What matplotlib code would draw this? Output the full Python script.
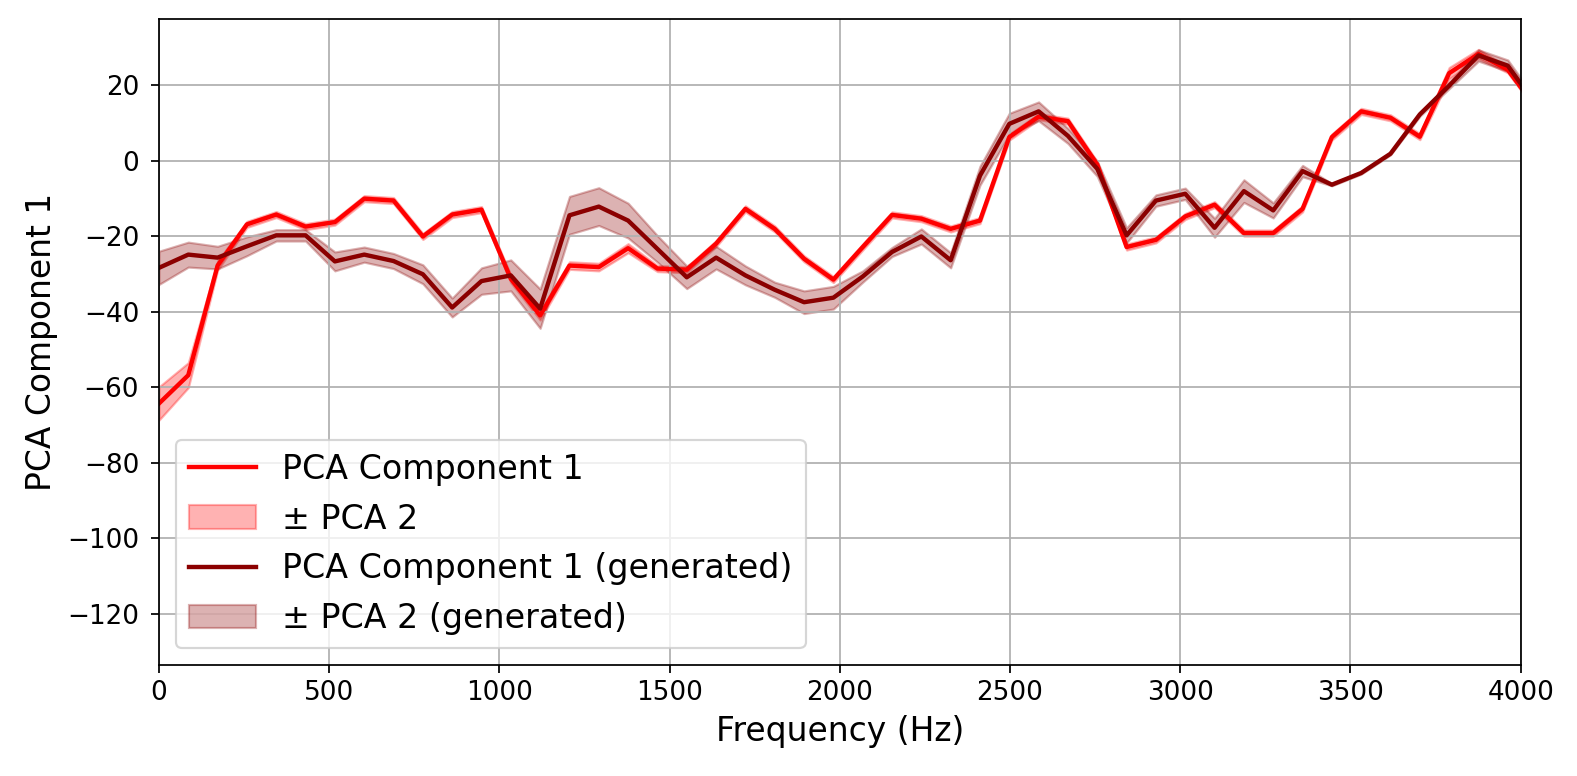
import matplotlib
matplotlib.use("Agg")
import matplotlib.pyplot as plt
import numpy as np

# {{{ data (48 FFT bins, spacing 22050/256 Hz)
bin_spacing = 22050 / 256
n_bins = 48

pc1 = [
    -64.3, -56.8, -27.8, -16.9, -14.3, -17.5, -16.3, -10.1, -10.6, -20.1,
    -14.3, -13.0, -31.3, -41.0, -27.8, -28.2, -23.2, -28.6, -28.9, -22.0,
    -12.8, -18.1, -26.0, -31.5, -22.9, -14.4, -15.4, -18.1, -15.9, 6.2,
    11.6, 10.4, -1.1, -22.9, -21.0, -14.8, -11.7, -19.2, -19.2, -12.8,
    6.2, 13.0, 11.3, 6.3, 23.1, 28.2, 24.0, 13.6,
]
pc2_spread = [
    4.4, 3.3, 1.2, 0.8, 0.8, 0.8, 0.8, 0.8, 0.8, 0.8,
    0.8, 0.8, 1.0, 1.2, 1.0, 1.0, 1.2, 0.8, 0.8, 0.8,
    0.8, 0.8, 0.8, 0.8, 0.8, 0.8, 0.8, 0.8, 0.8, 0.8,
    0.8, 0.8, 0.8, 0.8, 0.8, 0.8, 0.8, 0.8, 0.8, 0.8,
    0.8, 0.8, 0.8, 0.8, 1.5, 1.2, 0.8, 0.8,
]
pc1_gen = [
    -28.4, -24.9, -25.7, -22.7, -19.8, -19.8, -26.7, -24.9, -26.6, -30.1,
    -38.9, -31.9, -30.4, -39.2, -14.5, -12.2, -15.9, -23.4, -30.9, -25.7,
    -30.4, -34.2, -37.5, -36.3, -30.7, -24.2, -20.1, -26.4, -4.0, 9.7,
    13.0, 6.5, -2.2, -19.8, -10.6, -8.8, -17.8, -8.1, -13.2, -2.8,
    -6.4, -3.3, 1.8, 12.2, 19.8, 27.8, 25.1, 14.3,
]
pc2_spread_gen = [
    4.4, 3.3, 3.0, 2.5, 1.5, 1.5, 2.5, 2.0, 2.0, 2.5,
    2.5, 3.5, 4.1, 5.2, 5.0, 5.0, 4.6, 3.5, 3.0, 3.0,
    2.5, 2.0, 3.0, 3.0, 1.5, 1.2, 2.0, 2.0, 2.5, 2.8,
    2.5, 2.0, 2.0, 2.0, 1.5, 1.5, 2.5, 3.0, 2.0, 1.5,
    0.3, 0.3, 0.3, 0.5, 0.8, 1.5, 1.5, 1.5,
]
# }}}

freqs = np.arange(n_bins) * bin_spacing
pc1 = np.array(pc1)
pc1_gen = np.array(pc1_gen)
pc2_spread = np.array(pc2_spread)
pc2_spread_gen = np.array(pc2_spread_gen)

fig = plt.figure(figsize=(10, 776 / 157.7), dpi=157.7)
ax = fig.add_axes([0.1008, 0.1430, 0.8635, 0.8328])

ax.plot(freqs, pc1, color="red", lw=2, label="PCA Component 1")
ax.fill_between(
    freqs, pc1 - pc2_spread, pc1 + pc2_spread,
    color="red", alpha=0.3, label="± PCA 2",
)
ax.plot(freqs, pc1_gen, color="darkred", lw=2,
        label="PCA Component 1 (generated)")
ax.fill_between(
    freqs, pc1_gen - pc2_spread_gen, pc1_gen + pc2_spread_gen,
    color="darkred", alpha=0.3, label="± PCA 2 (generated)",
)

ax.set_xlim(0, 4000)
ax.set_ylim(-133.5, 37.5)
ax.set_xlabel("Frequency (Hz)", fontsize=15)
ax.set_ylabel("PCA Component 1", fontsize=15)
ax.tick_params(labelsize=12)
ax.tick_params(axis="y", pad=5.5)
ax.grid(True)
ax.legend(loc="lower left", fontsize=15.2)

fig.savefig("out.png", dpi=157.7)
